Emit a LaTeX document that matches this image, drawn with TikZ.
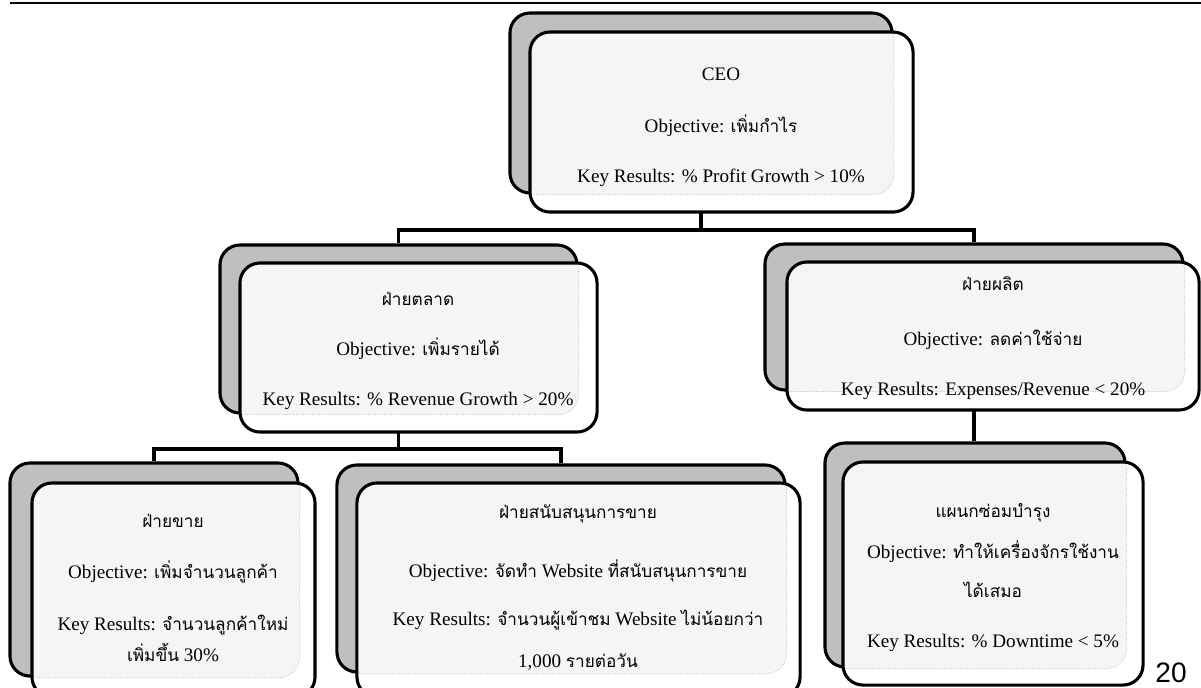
\documentclass[tikz,border=0pt]{standalone}
\usepackage{fontspec}
\setmainfont{Liberation Serif}
\newfontfamily\thai[Script=Thai,Scale=0.9]{Loma}
\newfontfamily\pagefont{Liberation Sans}
\usetikzlibrary{positioning, backgrounds}

\tikzset{
  backcard/.style={draw, line width=2.2pt, fill=black!25, rounded corners=0.5cm, inner sep=0pt},
  frontcard/.style={draw, line width=2.2pt, fill=white, rounded corners=0.5cm, inner sep=0pt,
    path picture={\draw[densely dotted, gray!45, line width=0.6pt, fill=gray!8, rounded corners=0.5cm] (#1.north west) rectangle (#1.south east);}},
  cardtext/.style={anchor=base, inner sep=0pt},
  link/.style={line width=2.2pt},
}

\begin{document}
\begin{tikzpicture}[x=0.025cm, y=-0.025cm, font=\fontsize{13.6}{16}\selectfont]
\useasboundingbox (0,0) rectangle (1201,687);

% top rule

\coordinate (ruleleft) at (10,3);
\coordinate (ruleright) at (1201,3);
\draw[line width=1.5pt] (ruleleft) -- (ruleright);

% cards, back ones first

\node[backcard, minimum width=9.55cm, minimum height=4.5cm] (ceoback) at (701,103) {};
\node[frontcard=ceoback, minimum width=9.575cm, minimum height=4.5cm] (ceocard) at (721.5,122) {};

\node[backcard, minimum width=8.925cm, minimum height=4.2cm] (mktback) at (398.5,329) {};
\node[frontcard=mktback, minimum width=8.925cm, minimum height=4.225cm] (mktcard) at (418.5,347.5) {};

\node[backcard, minimum width=10.45cm, minimum height=3.65cm] (prodback) at (974,317) {};
\node[frontcard=prodback, minimum width=10.3cm, minimum height=3.7cm] (prodcard) at (993,336) {};

\node[backcard, minimum width=7.2cm, minimum height=5.325cm] (salesback) at (154,569.5) {};
\node[frontcard=salesback, minimum width=7.075cm, minimum height=5.35cm] (salescard) at (173.5,590) {};

\node[backcard, minimum width=11.2cm, minimum height=5.175cm] (suppback) at (561,568.5) {};
\node[frontcard=suppback, minimum width=11.075cm, minimum height=5.35cm] (suppcard) at (578.5,590) {};

\node[backcard, minimum width=7.5cm, minimum height=5.6cm] (maintback) at (975,555) {};
\node[frontcard=maintback, minimum width=7.5cm, minimum height=5.575cm] (maintcard) at (993,573.5) {};

% texts

\node[cardtext] (ceotitle) at (721,80) {CEO};
\node[cardtext] (ceoobj) at (721,132) {Objective: {\thai เพิ่มกำไร}};
\node[cardtext] (ceokr) at (721,182) {Key Results: \% Profit Growth > 10\%};

\node[cardtext] (mkttitle) at (418,305) {\thai ฝ่ายตลาด};
\node[cardtext] (mktobj) at (418,355) {Objective: {\thai เพิ่มรายได้}};
\node[cardtext] (mktkr) at (418,405) {Key Results: \% Revenue Growth > 20\%};

\node[cardtext] (prodtitle) at (993,290) {\thai ฝ่ายผลิต};
\node[cardtext] (prodobj) at (993,345) {Objective: {\thai ลดค่าใช้จ่าย}};
\node[cardtext] (prodkr) at (993,395) {Key Results: Expenses/Revenue < 20\%};

\node[cardtext] (salestitle) at (173,527) {\thai ฝ่ายขาย};
\node[cardtext] (salesobj) at (173,578) {Objective: {\thai เพิ่มจำนวนลูกค้า}};
\node[cardtext] (saleskr) at (173,630) {Key Results: {\thai จำนวนลูกค้าใหม่}};
\node[cardtext] (saleskrb) at (173,661) {{\thai เพิ่มขึ้น} 30\%};

\node[cardtext] (supptitle) at (578,518) {\thai ฝ่ายสนับสนุนการขาย};
\node[cardtext] (suppobj) at (578,577) {Objective: {\thai จัดทำ} Website {\thai ที่สนับสนุนการขาย}};
\node[cardtext] (suppkr) at (578,625) {Key Results: {\thai จำนวนผู้เข้าชม} Website {\thai ไม่น้อยกว่า}};
\node[cardtext] (suppkrb) at (578,667) {1,000 {\thai รายต่อวัน}};

\node[cardtext] (mainttitle) at (993,517) {\thai แผนกซ่อมบำรุง};
\node[cardtext] (maintobj) at (993,558) {Objective: {\thai ทำให้เครื่องจักรใช้งาน}};
\node[cardtext] (maintobjb) at (993,597) {\thai ได้เสมอ};
\node[cardtext] (maintkr) at (993,647) {Key Results: \% Downtime < 5\%};

\node[cardtext, font=\pagefont\fontsize{20}{24}\selectfont] (pagenum) at (1171,682) {20};

% links behind the cards

\begin{scope}[on background layer]
\coordinate (ceojoin) at (ceoback.south |- 0,230);
\draw[link] (ceoback.south) -- (ceojoin) -| (mktback.north);
\draw[link] (ceojoin) -| (prodback.north);
\coordinate (mktjoin) at (mktback.south |- 0,449);
\draw[link] (mktback.south) -- (mktjoin) -| (salesback.north);
\draw[link] (mktjoin) -| (suppback.north);
\draw[link] (prodback.south) -- (prodback.south |- maintback.north);
\end{scope}

\end{tikzpicture}
\end{document}
